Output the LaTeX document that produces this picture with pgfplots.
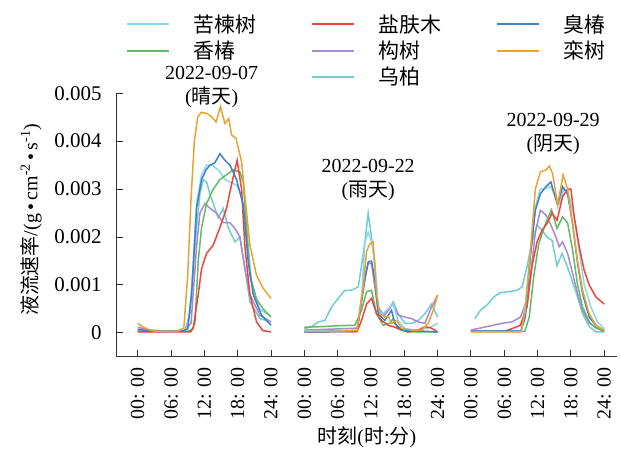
\documentclass[border=0pt]{standalone}
\usepackage{fontspec}
\setmainfont{Liberation Serif}
\newfontfamily\cjk{Noto Sans CJK SC}
\usepackage{pgfplots}
\pgfplotsset{compat=1.18}
\definecolor{cKL}{RGB}{140,212,242}
\definecolor{cYF}{RGB}{236,70,60}
\definecolor{cCC}{RGB}{66,128,200}
\definecolor{cXC}{RGB}{100,186,104}
\definecolor{cGS}{RGB}{168,138,212}
\definecolor{cLS}{RGB}{232,164,48}
\definecolor{cWJ}{RGB}{112,206,206}
\definecolor{axgray}{RGB}{50,50,50}
\newcommand{\lt}[1]{\makebox[66bp][l]{\cjk #1}}
\pgfplotsset{
  noleg/.style={legend image code/.code={}},
}
\begin{document}
\begin{tikzpicture}[font=\fontsize{20}{24}\selectfont]
\begin{axis}[
  scale only axis, width=500bp, height=263.5bp,
  xmin=-3.78, xmax=86.3, ymin=-0.0005, ymax=0.005,
  axis lines=left, axis line style={-, line width=1.2bp, axgray},
  clip=false, scaled y ticks=false,
  xtick={0,6,12,18,24,30,36,42,48,54,60,66,72,78,84},
  xticklabels={00: 00,06: 00,12: 00,18: 00,24: 00,00: 00,06: 00,12: 00,18: 00,24: 00,00: 00,06: 00,12: 00,18: 00,24: 00},
  ytick={0,0.001,0.002,0.003,0.004,0.005},
  yticklabels={0,0.001,0.002,0.003,0.004,0.005},
  tick align=inside, major tick length=6.5bp,
  every tick/.style={axgray, line width=1bp},
  xticklabel style={rotate=90, anchor=east, inner sep=0pt},
  xticklabel shift=10bp,
  yticklabel style={anchor=east, inner sep=0pt, font=\fontsize{21}{24}\selectfont},
  yticklabel shift=15bp,
  ylabel={{\cjk 液流速率}/(g\,•\,cm\textsuperscript{-2}\,•\,s\textsuperscript{-1})},
  ylabel style={at={(axis description cs:-0.171,0.52)}, anchor=center, rotate=0},
  xlabel={{\cjk 时刻}({\cjk 时}:{\cjk 分})},
  xlabel style={at={(axis description cs:0.5,-0.305)}, anchor=center},
  legend columns=3,
  legend image code/.code={\draw[#1] (0bp,0bp) -- (42bp,0bp);},
  legend style={draw=none, fill=none, at={(axis description cs:0.0126,1.3058)}, anchor=north west,
    nodes={inner sep=0pt, anchor=west}, row sep=7bp,
    /tikz/every odd column/.append style={column sep=23bp},
    /tikz/every even column/.append style={column sep=52bp},
    font=\fontsize{21}{24}\selectfont},
  legend cell align=left,
  every axis plot/.append style={line width=1.5bp},
]
\addlegendimage{cKL, line width=1.9bp}\addlegendentry{\lt{苦楝树}}
\addlegendimage{cYF, line width=1.9bp}\addlegendentry{\lt{盐肤木}}
\addlegendimage{cCC, line width=1.9bp}\addlegendentry{\cjk 臭椿}
\addlegendimage{cXC, line width=1.9bp}\addlegendentry{\lt{香椿}}
\addlegendimage{cGS, line width=1.9bp}\addlegendentry{\lt{构树}}
\addlegendimage{cLS, line width=1.9bp}\addlegendentry{\cjk 栾树}
\addlegendimage{noleg}\addlegendentry{\phantom{x}}
\addlegendimage{cWJ, line width=1.9bp}\addlegendentry{\lt{乌柏}}

% 乌柏
\addplot[cWJ, forget plot] coordinates {(0,0.00005) (4,0.00003) (8.5,0.00005) (9.4,0.0004) (10.6,0.0022) (11.2,0.0029) (11.8,0.0032) (12.4,0.00315) (13,0.0029) (13.6,0.0027) (14.5,0.0024) (15.4,0.0026) (16.3,0.0022) (17.5,0.0019) (18.4,0.002) (19.3,0.00134) (20.2,0.00065) (22,0.0003) (24,0.00023)};
\addplot[cWJ, forget plot] coordinates {(30,0.00009) (31.3,0.00013) (32.5,0.00023) (33.7,0.00026) (34.9,0.00054) (36.1,0.00072) (37.3,0.00089) (38.5,0.00089) (39.7,0.00096) (40.3,0.0014) (40.9,0.0019) (41.5,0.0025) (42.1,0.002) (42.7,0.0014) (43.3,0.00054) (44.2,0.0004) (45.1,0.00047) (46,0.00065) (46.9,0.0004) (48.1,0.0002) (49.3,0.0002) (50.5,0.00026) (51.7,0.0004) (52.9,0.0006) (54,0.00033)};
\addplot[cWJ, forget plot] coordinates {(60.7,0.0003) (61.7,0.00047) (62.9,0.00058) (64.1,0.00075) (65.3,0.00084) (66.8,0.00086) (68.3,0.00089) (69.2,0.00096) (70.1,0.00138) (71,0.0019) (71.9,0.00225) (72.8,0.00214) (73.7,0.002) (74.6,0.00193) (75.5,0.0014) (76.4,0.00166) (77.3,0.0014) (78.2,0.0011) (79.2,0.00075) (80.1,0.0004) (81.3,0.00013) (82.5,0.00002) (84,0.00002)};
% 构树
\addplot[cGS, forget plot] coordinates {(0,0.00012) (2,0.00006) (5,0.00004) (8.5,0.00005) (9.6,0.0002) (10.6,0.0018) (11.2,0.0025) (12.1,0.0027) (13,0.0026) (14.2,0.0025) (15.4,0.0023) (16.6,0.0023) (17.5,0.00218) (18.4,0.002) (19.3,0.00134) (20.2,0.0008) (22,0.00037) (24,0.00023)};
\addplot[cGS, forget plot] coordinates {(30,0.00006) (35,0.00008) (39.5,0.0001) (40.9,0.0012) (41.5,0.00145) (42.1,0.00145) (43.3,0.00047) (44.5,0.00037) (46,0.00061) (46.9,0.00037) (48.1,0.00033) (49.3,0.0003) (50.5,0.00023) (51.7,0.0002) (52.9,0.00054) (54,0.00079)};
\addplot[cGS, forget plot] coordinates {(60,0.00006) (62.8,0.00013) (65.6,0.0002) (67.4,0.00023) (68.9,0.00033) (69.8,0.0006) (70.7,0.00117) (71.6,0.0021) (72.5,0.00256) (73.5,0.00246) (74.4,0.00225) (75.3,0.002) (75.9,0.0018) (76.5,0.0019) (77.4,0.00166) (78.3,0.00124) (79.2,0.00082) (80.1,0.00047) (81.3,0.0002) (84,0.00002)};
% 苦楝树
\addplot[cKL, forget plot] coordinates {(0,0.00005) (3,0.00003) (8,0.00003) (9,0.0001) (9.7,0.0009) (10.6,0.0027) (11.5,0.0033) (12.4,0.0035) (13.5,0.0035) (14.8,0.00336) (15.7,0.0032) (16.6,0.00315) (17.8,0.00308) (18.7,0.00287) (19.6,0.0022) (20.5,0.00106) (21.9,0.0005) (24,0.00035)};
\addplot[cKL, forget plot] coordinates {(30,0.00005) (35,0.00004) (39.5,0.00006) (40.3,0.0007) (40.9,0.0019) (41.5,0.0021) (42.1,0.0019) (42.7,0.0015) (43.3,0.00047) (44.2,0.0004) (45.4,0.00054) (46,0.0006) (46.9,0.00025) (48.1,0.00009) (50.5,0.00005) (52.9,0.00013) (54,0.0002)};
\addplot[cKL, forget plot] coordinates {(60,0.00003) (69,0.00004) (69.8,0.0006) (70.7,0.0017) (71.6,0.00263) (72.5,0.003) (73.5,0.00302) (74.4,0.00305) (75.3,0.00284) (75.9,0.0027) (76.8,0.00302) (77.7,0.00284) (78.6,0.00242) (79.5,0.0017) (80.4,0.001) (81.6,0.00054) (82.8,0.00023) (84,0.00009)};
% 香椿
\addplot[cXC, forget plot] coordinates {(0,0.00005) (3,0.00003) (9,0.00003) (9.8,0.00008) (10.3,0.0002) (10.9,0.0015) (11.5,0.0022) (12.4,0.0027) (13.6,0.003) (14.8,0.0032) (16,0.0033) (17.2,0.0034) (18.4,0.00336) (19,0.00315) (19.6,0.0022) (20.2,0.0012) (21.4,0.0007) (22.6,0.0005) (24,0.00033)};
\addplot[cXC, forget plot] coordinates {(30,0.00012) (33,0.00013) (36,0.00015) (39.1,0.00016) (40.3,0.00047) (41.2,0.00086) (42.1,0.00089) (43,0.0004) (44.2,0.00016) (45.4,0.0002) (46,0.0003) (46.9,0.00009) (48.7,0.00002) (54,0.00002)};
\addplot[cXC, forget plot] coordinates {(60,0.00003) (69.7,0.00003) (70.5,0.00033) (71.3,0.00117) (72.2,0.00186) (73.5,0.0023) (74.5,0.00257) (75.5,0.00218) (76.5,0.00242) (77.4,0.0023) (78.3,0.00173) (79.2,0.001) (80.1,0.00054) (81.3,0.00023) (82.5,0.0001) (84,0.00004)};
% 盐肤木
\addplot[cYF, forget plot] coordinates {(0,0.00002) (5,0.00002) (9.5,0.00002) (10,0.0001) (10.9,0.0008) (11.5,0.00134) (12.4,0.00166) (13.6,0.00183) (14.8,0.0022) (16,0.0026) (16.9,0.0031) (17.9,0.0036) (18.7,0.003) (19.3,0.0018) (20.2,0.0008) (21.4,0.00023) (22.5,0.00005) (24,0.00002)};
\addplot[cYF, forget plot] coordinates {(30,0.00002) (39.5,0.00003) (40.3,0.00026) (41.2,0.0006) (42.1,0.00072) (43,0.0004) (43.9,0.00026) (45.1,0.00016) (46.3,0.00012) (47.5,0.00006) (48.7,0.00002) (50.5,0.00006) (51.7,0.00013) (52.9,0.0001) (54,0.00002)};
\addplot[cYF, forget plot] coordinates {(60,0.00003) (66,0.00003) (67.4,0.00009) (68.9,0.00016) (70.1,0.00054) (71,0.0014) (71.9,0.0019) (72.8,0.00214) (73.8,0.0023) (74.6,0.0025) (75.5,0.00235) (76.5,0.00284) (77.4,0.003) (78,0.003) (78.6,0.00242) (79.5,0.0018) (80.4,0.0013) (81.3,0.001) (82.5,0.00075) (84,0.0006)};
% 臭椿
\addplot[cCC, forget plot] coordinates {(0,0.00008) (2,0.00004) (5,0.00003) (8,0.00004) (9,0.00008) (9.7,0.0008) (10.6,0.0026) (11.5,0.0032) (12.3,0.0034) (13,0.0035) (13.9,0.00355) (14.8,0.00374) (15.7,0.0036) (16.6,0.0035) (17.8,0.0032) (19,0.00267) (19.9,0.00148) (20.8,0.0008) (22.3,0.00037) (24,0.00016)};
\addplot[cCC, forget plot] coordinates {(30,0.00002) (39.5,0.00003) (40.9,0.0011) (41.5,0.00148) (42.1,0.0015) (42.7,0.0011) (43.3,0.0004) (44.5,0.00026) (45.7,0.00047) (46.3,0.0002) (47.5,0.00006) (54,0.00002)};
\addplot[cCC, forget plot] coordinates {(60,0.00004) (69,0.00004) (69.8,0.00033) (70.7,0.0016) (71.6,0.00256) (72.5,0.0029) (73.5,0.00305) (74.4,0.00315) (75,0.0029) (75.6,0.00267) (76.5,0.00305) (77.4,0.0029) (78.3,0.00228) (79.2,0.00145) (80.1,0.00082) (81.3,0.00033) (82.5,0.00016) (84,0.00005)};
% 栾树
\addplot[cLS, forget plot] coordinates {(0,0.0002) (1,0.00012) (2,0.00007) (3,0.00004) (5,0.00003) (7,0.00003) (8.3,0.0001) (9,0.0012) (9.6,0.0028) (10.2,0.004) (10.8,0.0045) (11.4,0.0046) (12.4,0.00458) (13.3,0.00451) (14.1,0.0044) (14.9,0.00472) (15.7,0.00437) (16.4,0.00447) (16.9,0.00413) (17.7,0.00406) (18.7,0.00357) (19.3,0.00287) (20.2,0.00183) (21.4,0.0012) (22.6,0.00093) (24,0.00072)};
\addplot[cLS, forget plot] coordinates {(30,0.00003) (35,0.00003) (39.5,0.00005) (40.6,0.00096) (41.2,0.0017) (41.8,0.00186) (42.4,0.0019) (43,0.00082) (43.6,0.0004) (44.5,0.00033) (45.1,0.00035) (45.7,0.0002) (46.6,0.00026) (47.5,0.0001) (49.3,0.00006) (51.1,0.00006) (52.3,0.0002) (53.2,0.00047) (54,0.00079)};
\addplot[cLS, forget plot] coordinates {(60,0.00002) (69,0.00002) (69.8,0.00047) (70.7,0.0017) (71.6,0.003) (72.5,0.00336) (73.5,0.0034) (74.1,0.00348) (74.7,0.00333) (75.6,0.00267) (76.6,0.0033) (77.4,0.003) (78.3,0.00228) (79.2,0.0015) (80.1,0.00089) (81.3,0.0004) (82.5,0.00016) (84,0.00005)};

\node[align=center, inner sep=0pt] at (axis cs:13.3,0.00514) {2022-09-07\\({\cjk 晴天})};
\node[align=center, inner sep=0pt] at (axis cs:41.5,0.00319) {2022-09-22\\({\cjk 雨天})};
\node[align=center, inner sep=0pt] at (axis cs:74.8,0.00415) {2022-09-29\\({\cjk 阴天})};
\path (axis description cs:-0.2333,-0.3427) rectangle (axis description cs:1.006,1.3537);
\end{axis}
\end{tikzpicture}
\end{document}
